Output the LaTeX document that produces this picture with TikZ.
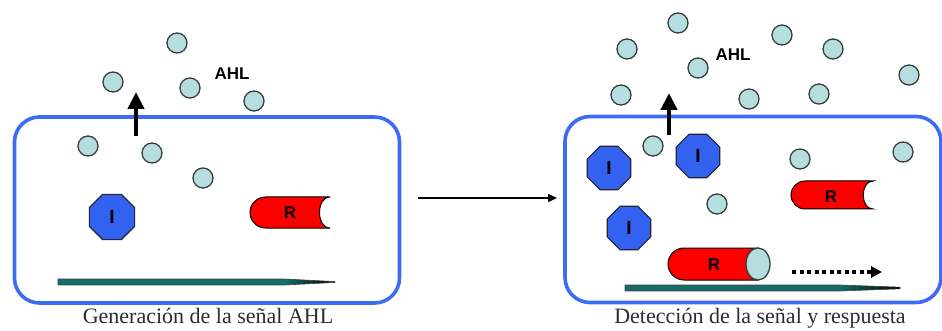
\documentclass[tikz,border=0pt]{standalone}
\usepackage{fontspec}
\setmainfont{Liberation Serif}
\setsansfont{Liberation Sans}
\usetikzlibrary{shapes.geometric,arrows.meta}

\definecolor{cellblue}{RGB}{60,108,246}
\definecolor{ahlfill}{RGB}{182,222,224}
\definecolor{ahledge}{RGB}{55,62,62}
\definecolor{enzblue}{RGB}{52,98,240}
\definecolor{enzedge}{RGB}{35,38,55}
\definecolor{recred}{RGB}{252,0,0}
\definecolor{dnateal}{RGB}{22,110,105}
\definecolor{captext}{RGB}{40,46,56}

\tikzset{
  cell/.style={draw=cellblue, line width=3.6pt, rounded corners=25pt, inner sep=0pt},
  ahl/.style={circle, draw=ahledge, fill=ahlfill, line width=1.3pt, minimum size=20pt, inner sep=0pt},
  ahltag/.style={font=\sffamily\bfseries\fontsize{17}{19}\selectfont},
  enzyme/.style={regular polygon, regular polygon sides=8, draw=enzedge, fill=enzblue,
                 line width=1.1pt, minimum size=47pt, inner sep=0pt,
                 font=\sffamily\bfseries\fontsize{19}{21}\selectfont},
  rlabel/.style={font=\sffamily\bfseries\fontsize{17}{19}\selectfont},
  receptor/.style={fill=recred, draw=black, line width=1pt},
  export/.style={line width=4.5pt, -{Triangle[width=16pt,length=17pt]}},
  caption/.style={anchor=base, text=captext, font=\fontsize{22}{24}\selectfont},
}

\begin{document}
\begin{tikzpicture}[x=1pt,y=-1pt]
\useasboundingbox (0,0) rectangle (942,331);

% ---------- cell 1: AHL generation ----------
\node[cell, minimum width=385pt, minimum height=186pt] (lcell) at (207,210) {};

% DNA strand
\fill[dnateal] (58,279) rectangle (285,285);
\shade[left color=dnateal, right color=black] (285,279) -- (335,281.6) -- (335,282.4) -- (285,285) -- cycle;
\draw[black!75, line width=0.6pt] (58,279) -- (285,279) -- (335,281.6) -- (335,282.4) -- (285,285) -- (58,285) -- cycle;

% synthase I
\node[enzyme, minimum size=49pt] (li) at (112,217) {I};

% free receptor R (open end on the right)
\draw[receptor] (265.5,197) -- (330,197)
  .. controls (316,197) and (316,228) .. (330,228) -- (265.5,228)
  .. controls (257,228) and (250,221) .. (250,212.5)
  .. controls (250,204) and (257,197) .. (265.5,197) -- cycle;
\node[rlabel] (lr) at (290,213) {R};

% AHL molecules
\node[ahl] (la1) at (88,146) {};
\node[ahl] (la2) at (152,153) {};
\node[ahl] (la3) at (203,178) {};
\node[ahl] (la4) at (177,43) {};
\node[ahl] (la5) at (113,82) {};
\node[ahl] (la6) at (190,88) {};
\node[ahl] (la7) at (254,101) {};
\node[ahltag] (lahl) at (232,74) {AHL};

% export of AHL through the membrane
\coordinate (lout0) at (136,136);
\coordinate (lout1) at (136,92);
\draw[export] (lout0) -- (lout1);

% ---------- transition arrow ----------
\coordinate (tr0) at (418,198);
\coordinate (tr1) at (557,198);
\draw[line width=1.3pt, -{Triangle[width=8pt,length=9pt]}] (tr0) -- (tr1);

% ---------- cell 2: detection and response ----------
\node[cell, minimum width=376pt, minimum height=186pt] (rcell) at (753,209.5) {};

% DNA strand
\fill[dnateal] (625,285) rectangle (840,291);
\shade[left color=dnateal, right color=black] (840,285) -- (900,287.2) -- (900,288.8) -- (840,291) -- cycle;
\draw[black!75, line width=0.6pt] (625,285) -- (840,285) -- (900,287.2) -- (900,288.8) -- (840,291) -- (625,291) -- cycle;

% synthases
\node[enzyme] (ri1) at (609,168) {I};
\node[enzyme] (ri2) at (698,156) {I};
\node[enzyme] (ri3) at (629,228) {I};

% free receptor R
\draw[receptor] (805,181) -- (873,181)
  .. controls (860,181) and (860,209) .. (873,209) -- (805,209)
  .. controls (797.3,209) and (791,202.7) .. (791,195)
  .. controls (791,187.3) and (797.3,181) .. (805,181) -- cycle;
\node[rlabel] (rr1) at (831,197) {R};

% receptor bound to AHL
\draw[receptor] (684,248) -- (758,248) -- (758,280) -- (684,280)
  .. controls (675.2,280) and (668,272.8) .. (668,264)
  .. controls (668,255.2) and (675.2,248) .. (684,248) -- cycle;
\draw[draw=ahledge, fill=ahlfill, line width=1.3pt] (758,264) ellipse [x radius=12, y radius=16];
\node[rlabel] (rr2) at (714,265) {R};

% transcription
\coordinate (tx0) at (792,272);
\coordinate (tx1) at (882,272);
\draw[line width=3.2pt, dash pattern=on 4pt off 3.5pt, -{Triangle[width=11pt,length=11pt]}] (tx0) -- (tx1);

% AHL molecules inside
\node[ahl] (ra1) at (653,146) {};
\node[ahl] (ra2) at (800,159) {};
\node[ahl] (ra3) at (903,152) {};
\node[ahl] (ra4) at (717,204) {};
% AHL molecules outside
\node[ahl] (ra5) at (678,23) {};
\node[ahl] (ra6) at (627,49) {};
\node[ahl] (ra7) at (698,68) {};
\node[ahl] (ra8) at (782,35) {};
\node[ahl] (ra9) at (833,49) {};
\node[ahl] (ra10) at (621,95) {};
\node[ahl] (ra11) at (749,99) {};
\node[ahl] (ra12) at (819,94) {};
\node[ahl] (ra13) at (909,75) {};
\node[ahltag] (rahl) at (733,55) {AHL};

% export of AHL through the membrane
\coordinate (rout0) at (669,135);
\coordinate (rout1) at (669,93);
\draw[export] (rout0) -- (rout1);

% ---------- captions ----------
\node[caption] (lcap) at (208,323) {Generación de la señal AHL};
\node[caption] (rcap) at (760,323) {Detección de la señal y respuesta};
\end{tikzpicture}
\end{document}
